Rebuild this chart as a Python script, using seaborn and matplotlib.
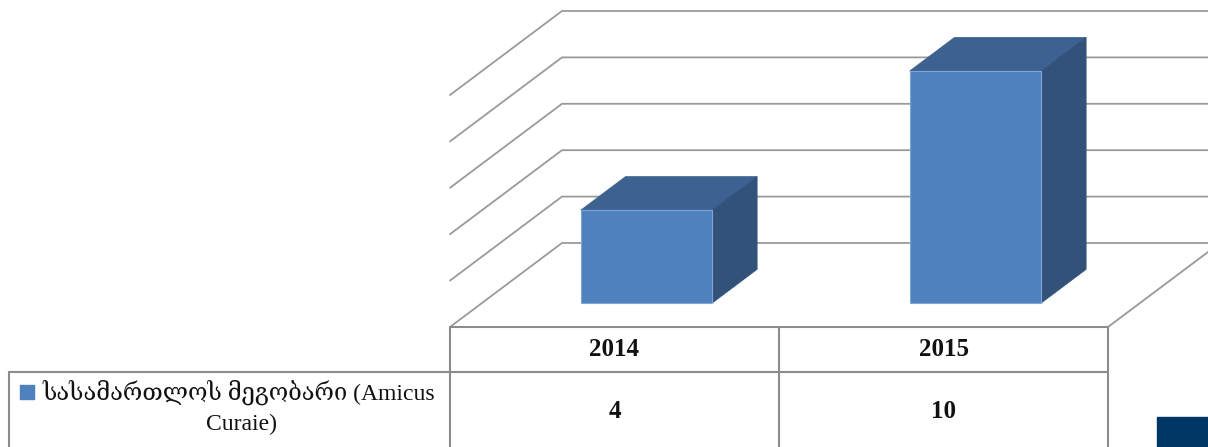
import matplotlib
matplotlib.use("Agg")
from matplotlib import pyplot as plt
from matplotlib.patches import Polygon, Rectangle
from matplotlib.transforms import Affine2D
import seaborn as sns
import pandas as pd

years = ["2014", "2015"]
values = [4, 10]
series_label = ["სასამართლოს მეგობარი (Amicus", "Curaie)"]
grid_ticks = [0, 2, 4, 6, 8, 10]

front_col = "#4F81BD"
top_col = "#3D6190"
side_col = "#32527B"
grid_col = "#9A9A9A"

# oblique projection of depth (data units for depth = 1)
DX, DY = 0.3404, 3.621
D0, D1 = 0.286, 0.686
PXX, PXY = 329, 23.2  # pixels per data unit


def proj(x, y, d):
    return (x + DX * d, y + DY * d)


sns.set_style("white")
plt.rcParams["font.family"] = ["Liberation Serif", "DejaVu Serif", "DejaVu Sans"]

fig = plt.figure(figsize=(12.08, 4.47), dpi=100)
ax = fig.add_axes([0, 0, 1, 1])

df = pd.DataFrame({"year": years, "value": values})
sns.barplot(data=df, x="year", y="value", width=0.4, color=front_col,
            saturation=1, edgecolor="#7FA6D6", linewidth=0.8, ax=ax, zorder=3)

# walls and floor
for v in grid_ticks:
    a = proj(-0.5, v, 0)
    b = proj(-0.5, v, 1)
    c = proj(1.5, v, 1)
    ax.plot([a[0], b[0], c[0]], [a[1], b[1], c[1]], color=grid_col, lw=1.3,
            zorder=1, solid_joinstyle="miter")
r0 = proj(1.5, 0, 0)
r1 = proj(1.5, 0, 1)
ax.plot([r0[0], r1[0]], [r0[1], r1[1]], color=grid_col, lw=1.3, zorder=1)

# 3d faces of the bars
for p in list(ax.patches):
    x0, w, h = p.get_x(), p.get_width(), p.get_height()
    x1 = x0 + w
    p.set_transform(Affine2D().translate(DX * D0, DY * D0) + ax.transData)
    top = [proj(x0, h, D0), proj(x1, h, D0), proj(x1, h, D1), proj(x0, h, D1)]
    side = [proj(x1, 0, D0), proj(x1, h, D0), proj(x1, h, D1), proj(x1, 0, D1)]
    ax.add_patch(Polygon(top, closed=True, facecolor=top_col, edgecolor=top_col,
                         lw=0.5, zorder=2.9))
    ax.add_patch(Polygon(side, closed=True, facecolor=side_col, edgecolor=side_col,
                         lw=0.5, zorder=2.9))

# data table
row1 = -45 / PXY
bottom = -6
left = -0.5 - 441 / PXX
tcol = "#8C8C8C"
ax.plot([-0.5, 1.5], [0, 0], color=tcol, lw=1.5, zorder=4)
ax.plot([left, 1.5], [row1, row1], color=tcol, lw=1.5, zorder=4)
for xv in [-0.5, 0.5, 1.5]:
    ax.plot([xv, xv], [0, bottom], color=tcol, lw=1.5, zorder=4)
ax.plot([left, left], [row1, bottom], color=tcol, lw=1.5, zorder=4)

for i, (yr, val) in enumerate(zip(years, values)):
    ax.text(i, row1 / 2, yr, ha="center", va="center", fontsize=18,
            fontweight="bold", color="#111111")
    ax.text(i, row1 - 40 / PXY, str(val), ha="center", va="center",
            fontsize=18, fontweight="bold", color="#111111")

ax.text(-0.5 - 211 / PXX, row1 - 20 / PXY, series_label[0], ha="center",
        va="center", fontsize=17, color="#111111")
ax.text(-0.5 - 209 / PXX, row1 - 52 / PXY, series_label[1], ha="center",
        va="center", fontsize=17, color="#111111")
ax.scatter([-0.5 - 423 / PXX], [row1 - 20 / PXY], marker="s", s=100,
           color=front_col, zorder=5)

ax.set_xlim(-0.5 - 450 / PXX, 1.5 + 100 / PXX)
ax.set_ylim(-120 / PXY, 327 / PXY)
ax.axis("off")

fig.add_artist(Rectangle((1157 / 1208, 0), 51 / 1208, 30 / 447,
                         transform=fig.transFigure, color="#003663"))

fig.savefig("out.png", dpi=100)
